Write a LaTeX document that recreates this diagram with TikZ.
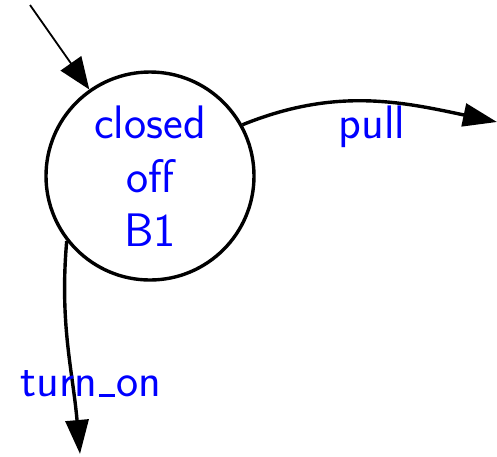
\documentclass[tikz,border=0pt]{standalone}
\usetikzlibrary{arrows.meta}
\newcommand{\uscore}{\kern0.04em\rule{0.34em}{0.05em}\kern0.04em}
\tikzset{
  state/.style={circle, draw, line width=1.7pt, minimum size=104pt, inner sep=0pt,
    align=center, text=blue, font=\sffamily\fontsize{23.5}{27}\selectfont},
  trans/.style={line width=1.7pt, -{Triangle[length=17pt,width=11.5pt]}},
  initarrow/.style={line width=0.9pt, -{Triangle[length=16pt,width=12.5pt]}},
  translabel/.style={text=blue, font=\sffamily\fontsize{23.5}{27}\selectfont, inner sep=0pt}
}
\begin{document}
\begin{tikzpicture}[x=0.5pt, y=-0.5pt]
  \useasboundingbox (0, 0) rectangle (497, 456);

  \node[state] (closed) at (150, 176) {closed\\off\\B1};
  \coordinate (start) at (30, 5);
  \coordinate (pullend) at (497, 122);
  \coordinate (turnend) at (80, 454);

  \draw[initarrow] (start) -- (closed);
  \draw[trans] (closed.29) to[out=22, in=168] (pullend);
  \draw[trans] (closed.218) to[out=-95, in=95] (turnend);

  \node[translabel] (pull) at (372, 127) {pull};
  \node[translabel] (turnon) at (91, 384) {turn\uscore on};
\end{tikzpicture}
\end{document}
